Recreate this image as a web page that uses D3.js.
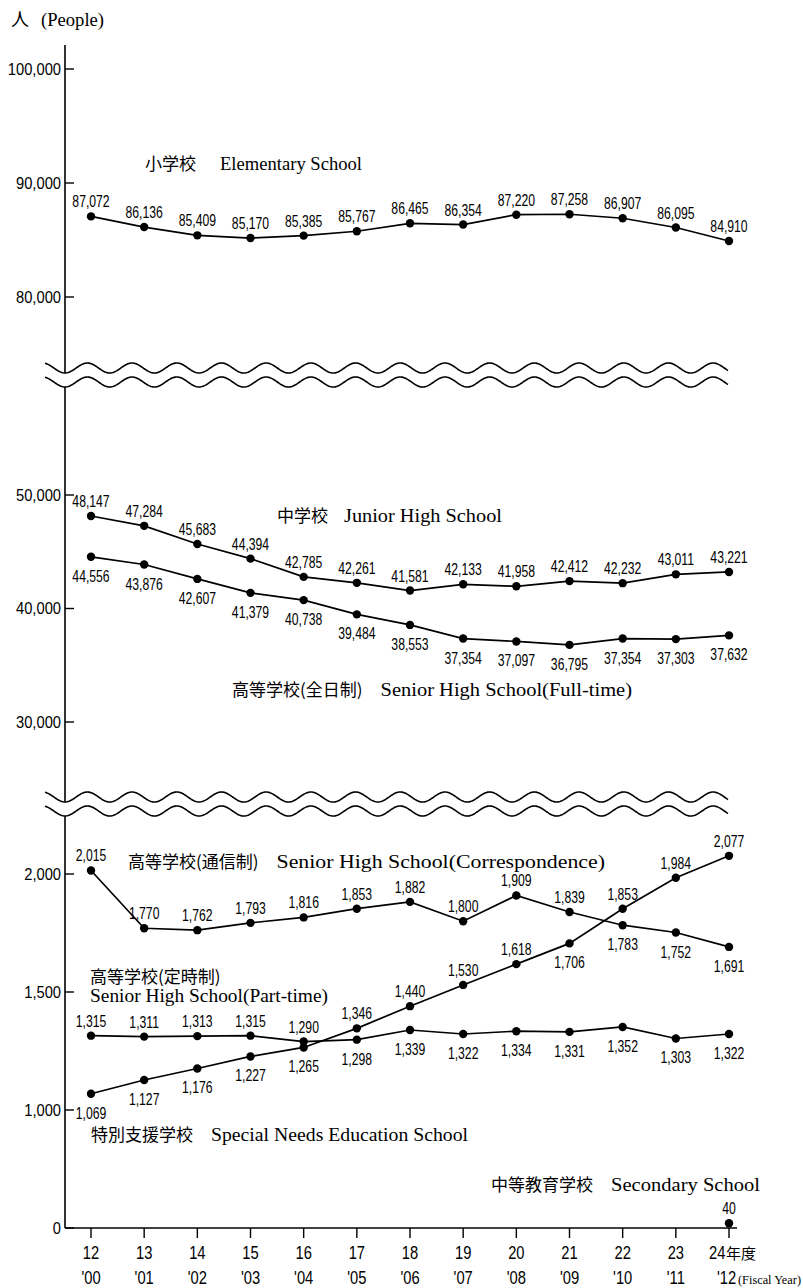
<!DOCTYPE html>
<html><head><meta charset="utf-8">
<script src="https://cdn.jsdelivr.net/npm/d3@7"></script>
<style>body{margin:0;background:#fff} svg{display:block}</style>
</head><body>
<svg id="chart" width="803" height="1288"></svg>
<script>
// ---------- data ----------
const years = [2000,2001,2002,2003,2004,2005,2006,2007,2008,2009,2010,2011,2012];
const eraLabels = ["12","13","14","15","16","17","18","19","20","21","22","23","24"];
const westLabels = ["'00","'01","'02","'03","'04","'05","'06","'07","'08","'09","'10","'11","'12"];
const elementary = [87072,86136,85409,85170,85385,85767,86465,86354,87220,87258,86907,86095,84910];
const juniorHigh = [48147,47284,45683,44394,42785,42261,41581,42133,41958,42412,42232,43011,43221];
const seniorFullTime = [44556,43876,42607,41379,40738,39484,38553,37354,37097,36795,37354,37303,37632];
const seniorCorrespondence = [2015,1770,1762,1793,1816,1853,1882,1800,1909,1839,1783,1752,1691];
const seniorPartTime = [1315,1311,1313,1315,1290,1298,1339,1322,1334,1331,1352,1303,1322];
const specialNeeds = [1069,1127,1176,1227,1265,1346,1440,1530,1618,1706,1853,1984,2077];
const secondaryYears = [2012];
const secondary = [40];
const upperTicks = [80000,90000,100000];
const middleTicks = [30000,40000,50000];
const lowerTicks = [0,1000,1500,2000];

// label placement (a = above, b = below)
const posElem = Array(13).fill("a");
const posJunior = Array(13).fill("a");
const posSenior = Array(13).fill("b");
const posCorr = ["a","a","a","a","a","a","a","a","a","a","b","b","b"];
const posPart = ["a","a","a","a","a","b","b","b","b","b","b","b","b"];
const posSpecial = ["b","b","b","b","b","a","a","a","a","b","a","a","a"];

// ---------- scales ----------
const svg = d3.select("#chart");
const x = d3.scalePoint().domain(years).range([91, 729]);
const yUpper = d3.scaleLinear().domain([80000,100000]).range([297,69]);
const yMiddle = d3.scaleLinear().domain([30000,50000]).range([722,495]);
const yLower = d3.scaleLinear().domain([0,1000,2000]).range([1228,1110,874]);
const axisX = 65, baseY = 1228;
const fmt = d3.format(",");
const numFont = "'Liberation Sans', Arial, sans-serif";
const jpFont = "'Noto Sans CJK JP', sans-serif";
const enFont = "'Liberation Serif', 'Times New Roman', serif";

// condensed number text helper
function numText(xp, yp, str, size, sx, anchor){
  return svg.append("text").attr("transform",`translate(${xp},${yp}) scale(${sx},1)`)
    .attr("text-anchor",anchor||"middle").attr("font-family",numFont).attr("font-size",size).text(str);
}

// ---------- axes ----------
svg.append("line").attr("x1",axisX).attr("x2",axisX).attr("y1",45).attr("y2",baseY)
  .attr("stroke","#000").attr("stroke-width",1.6);
svg.append("line").attr("x1",axisX).attr("x2",737).attr("y1",baseY).attr("y2",baseY)
  .attr("stroke","#000").attr("stroke-width",1.6);

function yTicks(scale, ticks){
  ticks.forEach(t=>{
    const yy = scale(t);
    svg.append("line").attr("x1",axisX).attr("x2",axisX+9).attr("y1",yy).attr("y2",yy)
      .attr("stroke","#000").attr("stroke-width",1.4);
    numText(axisX-4, yy+5.5, fmt(t), 16, 0.92, "end");
  });
}
yTicks(yUpper, upperTicks);
yTicks(yMiddle, middleTicks);
yTicks(yLower, lowerTicks);

// x ticks
years.forEach((yr,i)=>{
  const xx = x(yr);
  svg.append("line").attr("x1",xx).attr("x2",xx).attr("y1",baseY).attr("y2",baseY+10)
    .attr("stroke","#000").attr("stroke-width",1.4);
  const last = i === years.length-1;
  if(!last){
    numText(xx, 1259, eraLabels[i], 18, 0.82, "middle");
    numText(xx, 1284, westLabels[i], 18, 0.82, "middle");
  } else {
    numText(xx-20, 1259, eraLabels[i], 18, 0.82, "start");
    svg.append("text").attr("x",xx-3).attr("y",1259).attr("font-family",jpFont)
      .attr("font-size",15).text("年度");
    numText(xx-12, 1284, westLabels[i], 18, 0.82, "start");
    svg.append("text").attr("x",xx+9).attr("y",1284).attr("font-family",enFont)
      .attr("font-size",11.5).attr("textLength",63).attr("lengthAdjust","spacingAndGlyphs")
      .text("(Fiscal Year)");
  }
});

// unit label
svg.append("text").attr("x",11).attr("y",26).attr("font-family",jpFont).attr("font-size",18).text("人");
svg.append("text").attr("x",41).attr("y",26).attr("font-family",enFont)
  .attr("font-size",18).attr("textLength",63).attr("lengthAdjust","spacingAndGlyphs").text("(People)");

// ---------- wavy breaks ----------
function wave(cy, x0, x1){
  const pts=[];
  for(let xx=x0; xx<=x1; xx+=1){ pts.push([xx, cy + 5*Math.cos(2*Math.PI*(xx-65)/44.7)]); }
  return pts;
}
function breakMark(cy1, cy2){
  const a = wave(cy1, 45, 728), b = wave(cy2, 45, 728);
  const poly = a.concat(b.slice().reverse());
  svg.append("path").attr("d", d3.line()(poly)+"Z").attr("fill","#fff").attr("stroke","none");
  [a,b].forEach(p=> svg.append("path").attr("d", d3.line()(p)).attr("fill","none")
    .attr("stroke","#000").attr("stroke-width",1.6));
}
breakMark(368, 382);
breakMark(797, 811);

// ---------- series ----------
function series(values, scale, pos, xs){
  const xv = xs || years;
  const pts = values.map((v,i)=>[x(xv[i]), scale(v)]);
  if(pts.length>1){
    svg.append("path").attr("d", d3.line()(pts)).attr("fill","none")
      .attr("stroke","#000").attr("stroke-width",1.7);
  }
  pts.forEach((p,i)=>{
    svg.append("circle").attr("cx",p[0]).attr("cy",p[1]).attr("r",4.2).attr("fill","#000");
    numText(p[0], pos[i]==="a" ? p[1]-9 : p[1]+25, fmt(values[i]), 16.5, 0.74, "middle");
  });
}
series(elementary, yUpper, posElem);
series(juniorHigh, yMiddle, posJunior);
series(seniorFullTime, yMiddle, posSenior);
series(seniorCorrespondence, yLower, posCorr);
series(seniorPartTime, yLower, posPart);
series(specialNeeds, yLower, posSpecial);
series(secondary, yLower, ["a"], secondaryYears);

// ---------- series names ----------
function seriesName(xp, yp, jp, en, gap, enEnd){
  let enX = xp;
  if(jp){
    const t = svg.append("text").attr("x",xp).attr("y",yp)
      .attr("font-family",jpFont).attr("font-size",17).text(jp);
    enX = xp + t.node().getComputedTextLength() + gap;
  }
  if(en){
    svg.append("text").attr("font-family",enFont).attr("font-size",18).attr("x",enX).attr("y",yp)
      .attr("textLength",enEnd-enX).attr("lengthAdjust","spacingAndGlyphs").text(en);
  }
}
seriesName(145,170,"小学校","Elementary School",24,362);
seriesName(277,522,"中学校","Junior High School",16,502);
seriesName(232,696,"高等学校(全日制)","Senior High School(Full-time)",18,632);
seriesName(128,868,"高等学校(通信制)","Senior High School(Correspondence)",18,605);
seriesName(90,983,"高等学校(定時制)","",0,0);
seriesName(90,1002,"","Senior High School(Part-time)",0,328);
seriesName(91,1141,"特別支援学校","Special Needs Education School",18,468);
seriesName(491,1191,"中等教育学校","Secondary School",18,760);
</script>
</body></html>
